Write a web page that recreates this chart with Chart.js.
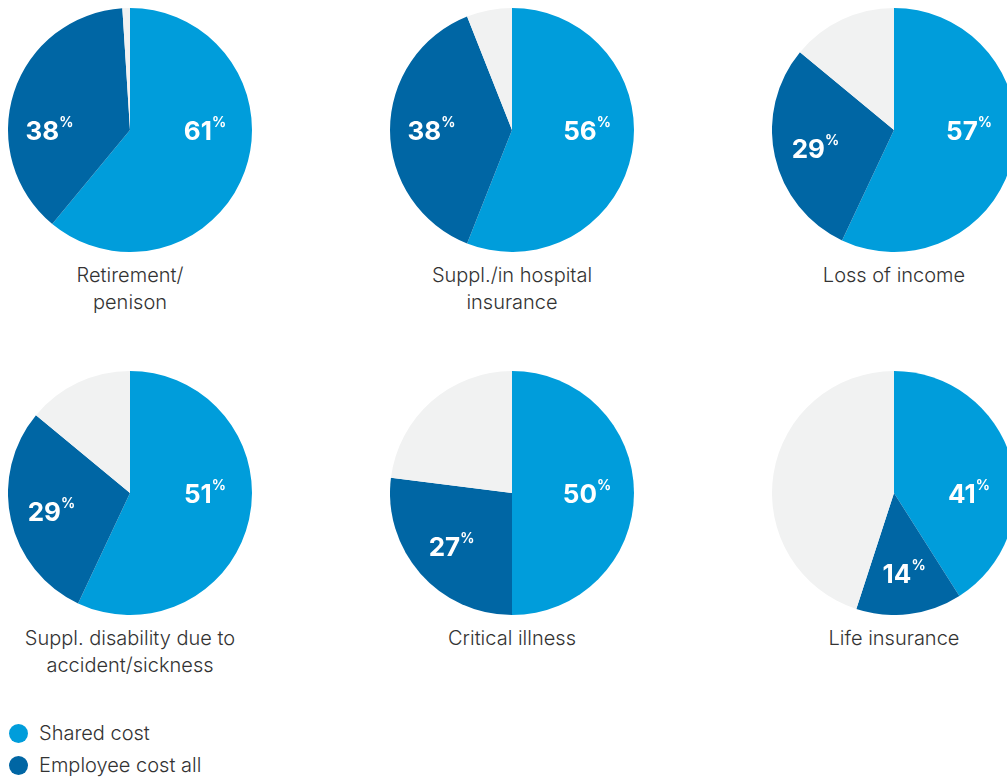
<!DOCTYPE html>
<html>
<head>
<meta charset="utf-8">
<script src="https://cdn.jsdelivr.net/npm/chart.js@4.4.1/dist/chart.umd.min.js"></script>
<style>
  html, body { margin: 0; padding: 0; background: #fff; overflow: hidden; }
  body { width: 1007px; height: 779px; position: relative; font-family: Inter, "Open Sans", sans-serif; }
  .pie { position: absolute; width: 244px; height: 244px; }
  .title { position: absolute; width: 300px; text-align: center; font-size: 20px; font-weight: 300; line-height: 27px; color: #333; }
  .legend { position: absolute; left: 9px; font-size: 20px; font-weight: 300; color: #333; }
  .legend div { height: 32px; display: flex; align-items: center; }
  .dot { width: 19px; height: 19px; border-radius: 50%; margin-right: 11px; }
</style>
</head>
<body>
<div class="legend" id="legend" style="top:717px"></div>
<script>
const categories = ["Retirement/\npenison", "Suppl./in hospital\ninsurance", "Loss of income",
  "Suppl. disability due to\naccident/sickness", "Critical illness", "Life insurance"];
const seriesNames = ["Shared cost", "Employee cost all", "Other"];
// slice sizes as drawn in the picture
const shared = [61, 56, 57, 57, 50, 41];
const employee = [38, 38, 29, 29, 27, 14];
const other = [1, 6, 14, 14, 23, 45];
// printed percentages (the disability chart is labelled 51% though drawn larger)
const sharedLabels = [61, 56, 57, 51, 50, 41];
const employeeLabels = [38, 38, 29, 29, 27, 14];

const colors = ["#009ddb", "#0066a4", "#f1f2f2"];
const centersX = [130, 512, 894];
const centersY = [130, 493];
const R = 122;

// percentage labels inside slices
const sliceLabels = {
  id: 'sliceLabels',
  afterDatasetsDraw(chart, args, opts) {
    const ctx = chart.ctx;
    const meta = chart.getDatasetMeta(0);
    for (let i = 0; i < 2; i++) {
      const arc = meta.data[i];
      let a, r;
      if (i === 0) {
        a = 0;
        r = arc.outerRadius * 0.615;
      } else {
        a = Math.min((arc.startAngle + arc.endAngle) / 2, Math.PI);
        r = arc.outerRadius * 0.66;
      }
      const x = arc.x + Math.cos(a) * r;
      const y = arc.y + Math.sin(a) * r;
      const num = String(opts.texts[i]);
      ctx.save();
      ctx.fillStyle = '#fff';
      ctx.textBaseline = 'alphabetic';
      ctx.font = 'bold 26px Inter, sans-serif';
      const wNum = ctx.measureText(num).width;
      ctx.font = 'bold 14px Inter, sans-serif';
      const wPct = ctx.measureText('%').width;
      const x0 = x - (wNum + wPct) / 2;
      ctx.font = 'bold 26px Inter, sans-serif';
      ctx.fillText(num, x0, y + 10);
      ctx.font = 'bold 14px Inter, sans-serif';
      ctx.fillText('%', x0 + wNum, y - 3);
      ctx.restore();
    }
  }
};

categories.forEach((cat, k) => {
  const cx = centersX[k % 3], cy = centersY[Math.floor(k / 3)];
  const wrap = document.createElement('div');
  wrap.className = 'pie';
  wrap.style.left = (cx - R) + 'px';
  wrap.style.top = (cy - R) + 'px';
  const canvas = document.createElement('canvas');
  canvas.width = 244; canvas.height = 244;
  wrap.appendChild(canvas);
  document.body.appendChild(wrap);

  const t = document.createElement('div');
  t.className = 'title';
  t.style.left = (cx - 150) + 'px';
  t.style.top = (cy + 132) + 'px';
  t.innerHTML = cat.replace('\n', '<br>');
  document.body.appendChild(t);

  new Chart(canvas.getContext('2d'), {
    type: 'pie',
    data: {
      labels: seriesNames,
      datasets: [{
        data: [shared[k], employee[k], other[k]],
        backgroundColor: colors,
        borderWidth: 0
      }]
    },
    options: {
      responsive: false,
      animation: false,
      events: [],
      layout: { padding: 0 },
      plugins: {
        legend: { display: false },
        tooltip: { enabled: false },
        sliceLabels: { texts: [sharedLabels[k], employeeLabels[k]] }
      }
    },
    plugins: [sliceLabels]
  });
});

const legend = document.getElementById('legend');
seriesNames.slice(0, 2).forEach((n, i) => {
  const row = document.createElement('div');
  row.innerHTML = '<span class="dot" style="background:' + colors[i] + '"></span>' + n;
  legend.appendChild(row);
});
</script>
</body>
</html>
